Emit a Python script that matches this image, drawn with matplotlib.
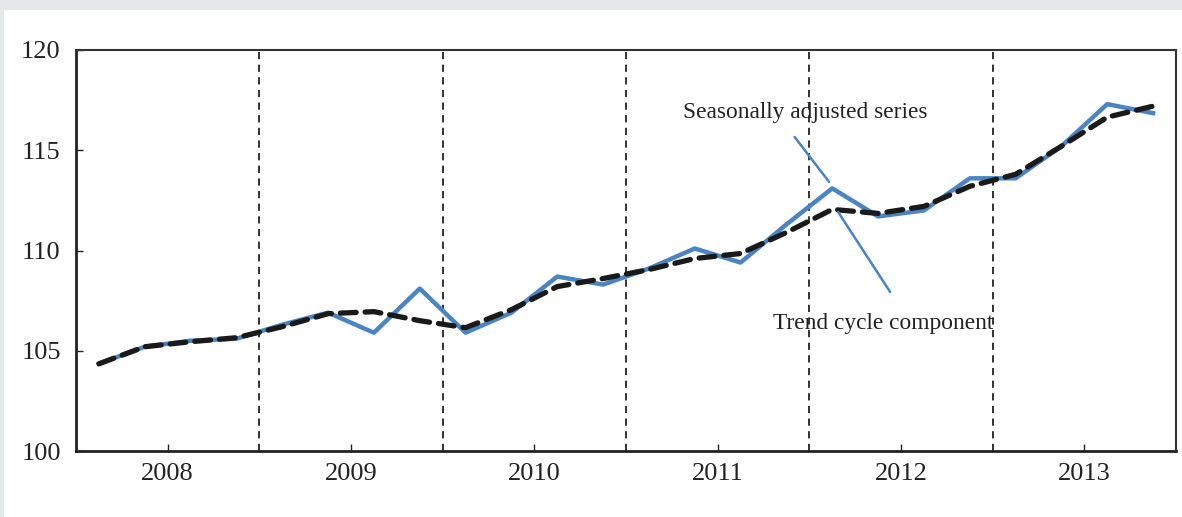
import matplotlib.pyplot as plt
from matplotlib.patches import Rectangle

# quarterly data 2008Q1 .. 2013Q4
years = [2008, 2009, 2010, 2011, 2012, 2013]
seasonally_adjusted = [104.35, 105.2, 105.5, 105.6, 106.3, 106.9, 105.9, 108.1,
                       105.9, 106.9, 108.7, 108.3, 109.1, 110.1, 109.4, 111.3,
                       113.1, 111.7, 112.0, 113.6, 113.6, 115.2, 117.3, 116.85]
trend_cycle = [104.35, 105.2, 105.45, 105.65, 106.2, 106.85, 106.95, 106.5,
               106.15, 107.05, 108.2, 108.6, 109.05, 109.6, 109.85, 110.9,
               112.05, 111.85, 112.2, 113.2, 113.8, 115.2, 116.65, 117.2]

plt.rcParams['font.family'] = ['Liberation Serif', 'DejaVu Serif']

x = [years[0] + (i + 0.5) / 4 for i in range(len(seasonally_adjusted))]

fig = plt.figure(figsize=(11.82, 5.17), dpi=100, facecolor='#e6e7e8')
fig.patches.append(Rectangle((4 / 1182, 0), 1, 1 - 10 / 517, transform=fig.transFigure,
                             facecolor='white', edgecolor='none', zorder=-10))
ax = fig.add_axes([76 / 1182, 1 - 451 / 517, 1100 / 1182, 401 / 517])
ax.set_zorder(5)
ax.patch.set_alpha(0)

# year separators
for yr in years[1:]:
    ax.axvline(yr, color='#222222', lw=1.3, ls=(0, (4, 3)), zorder=1)

ax.plot(x, seasonally_adjusted, color='#4a84c4', lw=3.2, zorder=2)
ax.plot(x, trend_cycle, color='#1a1a1a', lw=3.8, ls=(0, (3.0, 1.7)),
        dash_capstyle='round', zorder=3)

ax.set_xlim(years[0], years[-1] + 1)
ax.set_ylim(100, 120)
ax.set_yticks([100, 105, 110, 115, 120])
ax.set_xticks([yr + 0.5 for yr in years])
ax.set_xticklabels([str(yr) for yr in years])
ax.tick_params(axis='both', direction='in', length=5, width=1, labelsize=19, colors='#222222')
ax.tick_params(axis='y', pad=11)
ax.tick_params(axis='x', pad=9)

for side in ['left', 'bottom']:
    ax.spines[side].set_linewidth(2)
    ax.spines[side].set_color('#222222')
for side in ['top', 'right']:
    ax.spines[side].set_linewidth(1.5)
    ax.spines[side].set_color('#333333')

# annotations
ax.text(2011.977, 116.9, 'Seasonally adjusted series', fontsize=16.8,
        ha='center', va='center', color='#222222')
ax.annotate('', xy=(2012.108, 113.42), xytext=(2011.92, 115.66),
            arrowprops=dict(arrowstyle='-', color='#4a84c4', lw=1.8, shrinkA=0, shrinkB=0))
ax.text(2012.403, 106.38, 'Trend cycle component', fontsize=16.8,
        ha='center', va='center', color='#222222')
ax.annotate('', xy=(2012.157, 111.92), xytext=(2012.441, 107.93),
            arrowprops=dict(arrowstyle='-', color='#4a84c4', lw=1.8, shrinkA=0, shrinkB=0))

fig.savefig('out.png', dpi=100, facecolor=fig.get_facecolor())
